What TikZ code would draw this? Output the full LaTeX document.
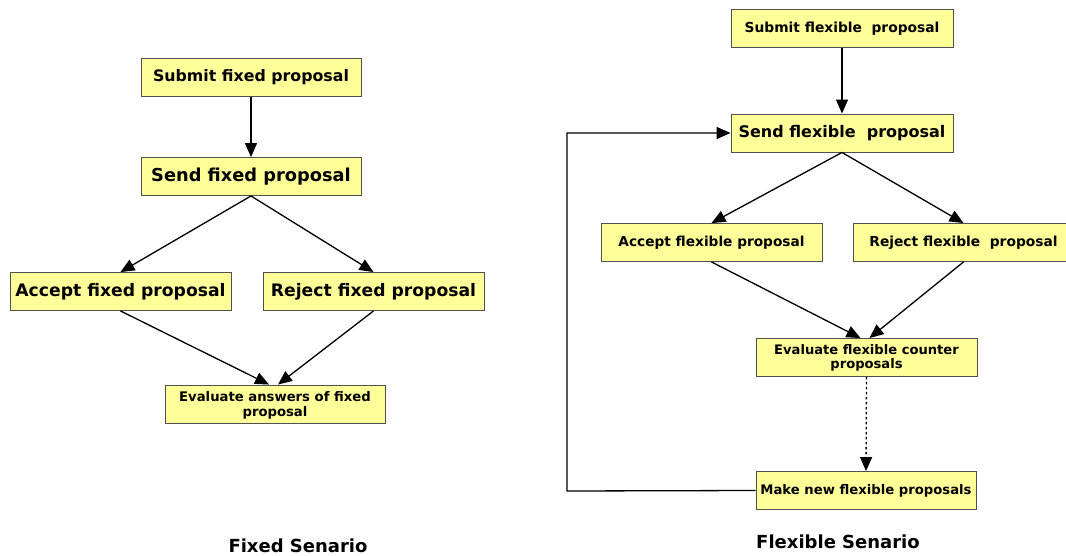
\documentclass[tikz,border=0pt]{standalone}
\usepackage{fontspec}
\setmainfont{DejaVu Sans}
\usetikzlibrary{arrows.meta,calc}
\definecolor{boxfill}{HTML}{FFFF99}
\definecolor{boxline}{HTML}{505050}
\newcommand{\fsz}[1]{\bfseries\fontsize{#1}{#1}\selectfont}
\begin{document}
\begin{tikzpicture}[x=1pt,y=-1pt,
  box/.style={draw=boxline,line width=0.9pt,fill=boxfill,rectangle,inner sep=0pt,
    minimum width=#1,minimum height=38pt,align=center},
  box/.default=220pt,
  arr/.style={draw=black,line width=1.3pt,-{Triangle[length=14pt,width=12pt]}},
  lbl/.style={font=\fsz{18}}]
\useasboundingbox (0,0) rectangle (1066,556);
% Fixed scenario
\node[box,font=\fsz{15.8}] (sf) at (251,77.5) {Submit fixed proposal};
\node[box,font=\fsz{17.8}] (sdf) at (251,176.5) {Send fixed proposal};
\node[box=221pt,font=\fsz{17.2}] (af) at (120.5,291.5) {Accept fixed proposal};
\node[box=221pt,font=\fsz{17.2}] (rf) at (373.5,291.5) {Reject fixed proposal};
\node[box,font=\fsz{13.2},text depth=0pt] (ef) at (275,404) {Evaluate answers of fixed\\[1pt]proposal};
\node[lbl] (lf) at (298,546) {Fixed Senario};
\draw[arr] (sf.south) -- (sdf.north);
\draw[arr] (sdf.south) -- (af.north);
\draw[arr] (sdf.south) -- (rf.north);
\draw[arr] (af.south) -- ([xshift=-6pt]ef.north);
\draw[arr] (rf.south) -- ([xshift=3pt]ef.north);
% Flexible scenario
\node[box=222pt,font=\fsz{13.8}] (sx) at (842,28.5) {Submit flexible\ \ proposal};
\node[box=222pt,font=\fsz{16}] (sdx) at (842,133) {Send flexible\ \ proposal};
\node[box=221pt,font=\fsz{13.7}] (ax) at (711.5,242.5) {Accept flexible proposal};
\node[box=221pt,font=\fsz{13.8}] (rx) at (963.5,242.5) {Reject flexible\ \ proposal};
\node[box=221pt,font=\fsz{13.1}] (ex) at (866.5,357.5) {Evaluate flexible counter\\[1pt]proposals};
\node[box,font=\fsz{13.2}] (mx) at (866,490.5) {Make new flexible proposals};
\node[lbl] (lx) at (838,542) {Flexible Senario};
\coordinate (lp) at (567,491);
\draw[arr] (sx.south) -- (sdx.north);
\draw[arr] (sdx.south) -- (ax.north);
\draw[arr] (sdx.south) -- (rx.north);
\draw[arr] (ax.south) -- ([xshift=-6pt]ex.north);
\draw[arr] (rx.south) -- ([xshift=3pt]ex.north);
\draw[arr,dash pattern=on 2.5pt off 2.5pt] (ex.south) -- (mx.north);
\draw[arr] (mx.west) -- (lp) |- (sdx.west);
\end{tikzpicture}
\end{document}
